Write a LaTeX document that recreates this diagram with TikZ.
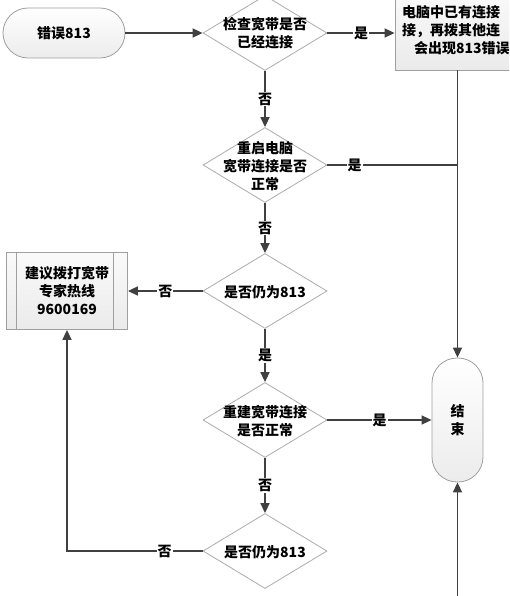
\documentclass[tikz,border=0pt]{standalone}
\usepackage{fontspec}
\setmainfont{Noto Sans CJK SC}
\usepackage{tikz}
\usetikzlibrary{positioning}
\usetikzlibrary{shapes.geometric}
\usetikzlibrary{arrows.meta}

\newcommand\flowfont{\fontsize{14}{18}\selectfont\bfseries}
\newcommand\dtext[1]{\raisebox{-6pt}[0pt][0pt]{\makebox[0pt]{\begin{tabular}{@{}c@{}}#1\end{tabular}}}}

\begin{document}
\begin{tikzpicture}
  [
    x=1pt, y=-1pt,
    every node/.style={font=\flowfont},
    decision/.style={
       diamond,
       draw=gray!65,
       line width=0.8pt,
       fill=white,
       minimum width=124pt,
       minimum height=75pt,
       inner sep=0pt
    },
    term/.style={
       rectangle,
       rounded corners=25pt,
       draw=gray!75,
       line width=0.8pt,
       top color=white,
       bottom color=gray!15
    },
    proc/.style={
       rectangle,
       draw=gray!75,
       line width=0.8pt,
       top color=gray!4,
       bottom color=gray!16
    },
    ln/.style={
       draw=black!75,
       line width=1.6pt,
       -{Triangle[length=10pt,width=9pt]}
    },
    seg/.style={
       draw=black!75,
       line width=1.6pt
    },
    yn/.style={fill=white, inner sep=1pt}
  ]
  \useasboundingbox (0,0) rectangle (509,596);
  \clip (0,0) rectangle (509,596);

  \node (start) at ( 64, 33) [term, minimum width=122pt, minimum height=50pt] {错误813};
  \node (d1)    at (265, 33) [decision] {\dtext{检查宽带是否\\已经连接}};
  \node (info)  at (470, 30) [proc, minimum width=150pt, minimum height=80pt,
                              text width=136pt, inner sep=7pt, align=left]
                {电脑中已有连接\\接，再拨其他连\\\hspace*{12pt}会出现813错误};
  \node (d2)    at (265,165) [decision] {\dtext{重启电脑\\宽带连接是否\\正常}};
  \node (d3)    at (265,291) [decision] {\dtext{是否仍为813}};
  \node (call)  at ( 67,291) [proc, minimum width=121pt, minimum height=77pt, align=center]
                {建议拨打宽带\\专家热线\\9600169};
  \node (d4)    at (265,420) [decision] {\dtext{重建宽带连接\\是否正常}};
  \node (endt)  at (457.5,420) [term, minimum width=51pt, minimum height=124pt, align=center] {结\\束};
  \node (d5)    at (265,551) [decision] {\dtext{是否仍为813}};
  \coordinate (tail) at (457.5,600);

  \draw [gray!75, line width=0.8pt] ([xshift=10pt]call.north west) -- ([xshift=10pt]call.south west);
  \draw [gray!75, line width=0.8pt] ([xshift=-15pt]call.north east) -- ([xshift=-15pt]call.south east);

  \draw [ln]  (start) -- (d1);
  \draw [ln]  (d1) -- (d1 -| info.west) node [yn, midway] {是};
  \draw [ln]  (d1) -- (d2) node [yn, midway] {否};
  \draw [ln]  (info.south -| endt) -- (endt);
  \draw [seg] (d2) -- (d2 -| endt) node [yn, pos=0.21] {是};
  \draw [ln]  (d2) -- (d3) node [yn, midway] {否};
  \draw [ln]  (d3) -- (call) node [yn, midway] {否};
  \draw [ln]  (d3) -- (d4) node [yn, midway] {是};
  \draw [ln]  (d4) -- (endt) node [yn, midway] {是};
  \draw [ln]  (d4) -- (d5) node [yn, midway] {否};
  \draw [ln]  (d5) -| (call) node [yn, pos=0.14] {否};
  \draw [ln]  (tail) -- (endt);
\end{tikzpicture}
\end{document}
